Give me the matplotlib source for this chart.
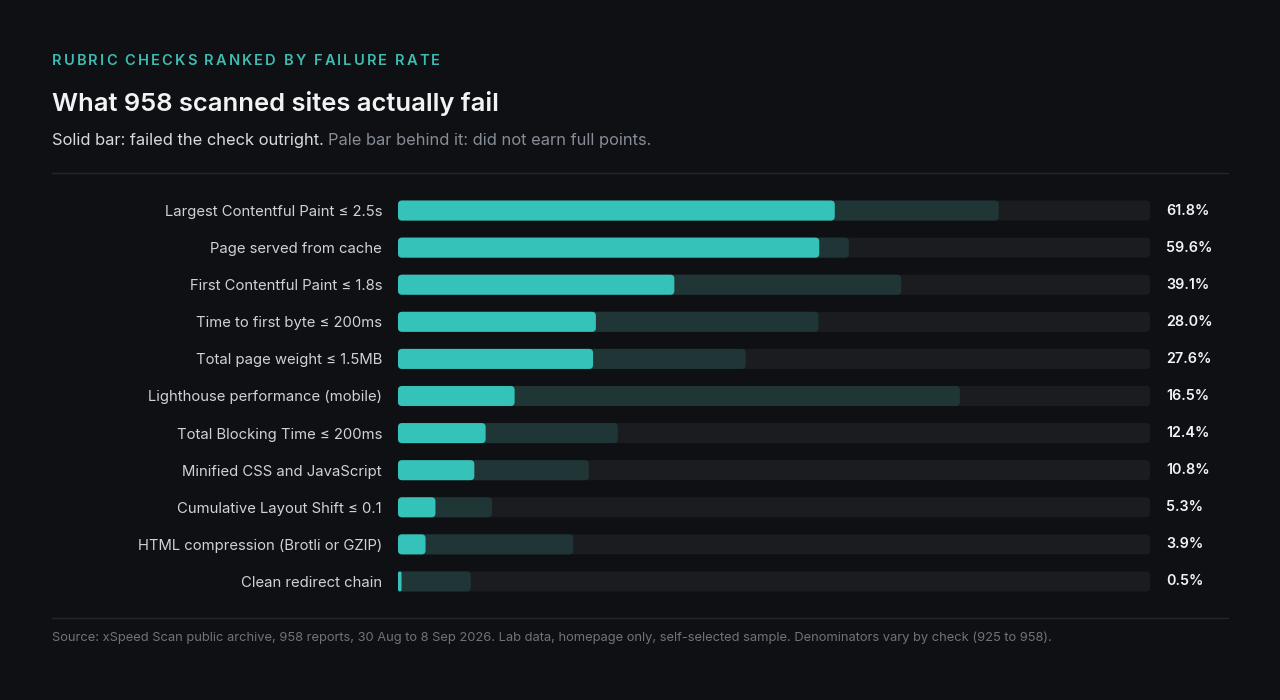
import matplotlib
matplotlib.use("Agg")
import matplotlib.pyplot as plt
from matplotlib.patches import FancyBboxPatch
from matplotlib.lines import Line2D

plt.rcParams['font.family'] = ['Inter', 'DejaVu Sans']

# rubric checks, worst first
checks = [
    "Largest Contentful Paint ≤ 2.5s",
    "Page served from cache",
    "First Contentful Paint ≤ 1.8s",
    "Time to first byte ≤ 200ms",
    "Total page weight ≤ 1.5MB",
    "Lighthouse performance (mobile)",
    "Total Blocking Time ≤ 200ms",
    "Minified CSS and JavaScript",
    "Cumulative Layout Shift ≤ 0.1",
    "HTML compression (Brotli or GZIP)",
    "Clean redirect chain",
]
# % failed outright (solid bar)
failed = [61.8, 59.6, 39.1, 28.0, 27.6, 16.5, 12.4, 10.8, 5.3, 3.9, 0.5]
# % not earning full points (pale bar)
not_full = [85.0, 63.8, 71.2, 59.5, 49.2, 79.5, 31.1, 27.0, 13.3, 24.8, 10.3]

W, H = 1280, 700
BG = "#0e1014"
TEAL = "#35c2b8"
PALE = "#1f3536"
TRACK = "#1a1c20"

fig = plt.figure(figsize=(W / 100, H / 100), dpi=100, facecolor=BG)


def px(x):
    return x / W


def py(y):
    return 1 - y / H


# bar area: 398..1150 px wide, rows 37px apart
ax = fig.add_axes([px(398), py(600), px(1150) - px(398), (600 - 192) / H])
ax.set_facecolor(BG)
XMAX = 106.4
ax.set_xlim(0, XMAX)
ax.set_ylim(len(checks) - 0.5, -0.5)

ppx = 752 / XMAX  # pixels per x unit
ppy = 37.0  # pixels per row
aspect = ppx / ppy
bh = 20 / ppy
rad = 4 / ppx


def rbar(x0, w, y, color, z):
    r = min(rad, w / 2)
    p = FancyBboxPatch((x0, y - bh / 2), w, bh,
                       boxstyle=f"round,pad=0,rounding_size={r}",
                       mutation_aspect=aspect, fc=color, ec="none", zorder=z)
    ax.add_patch(p)


for i, (f, nf) in enumerate(zip(failed, not_full)):
    rbar(0, XMAX, i, TRACK, 1)
    rbar(0, nf, i, PALE, 2)
    rbar(0, f, i, TEAL, 3)
    ax.annotate(f"{f:.1f}%", xy=(1, i), xycoords=('axes fraction', 'data'),
                xytext=(11.5, 0), textcoords='offset points', va='center', ha='left',
                color="#f2f3f5", fontsize=10.3, fontweight='semibold')

ax.set_yticks(range(len(checks)), labels=checks)
ax.tick_params(axis='y', length=0, pad=11.5, labelsize=10.7, labelcolor="#cfd2d7")
ax.set_xticks([])
for s in ax.spines.values():
    s.set_visible(False)

renderer = fig.canvas.get_renderer()


def width_px(s, **kw):
    t = fig.text(0, 0, s, **kw)
    w = t.get_window_extent(renderer).width
    t.remove()
    return w


# letter-spaced overline
over = "RUBRIC CHECKS RANKED BY FAILURE RATE"
okw = dict(fontsize=10.5, fontweight='semibold', color="#3dbdb1")
base = width_px("x", **okw)
spacing = 2.1
for i, ch in enumerate(over):
    if ch == " ":
        continue
    off = width_px(over[:i] + "x", **okw) - base if i else 0
    fig.text(px(52 + off + i * spacing), py(61), ch, va='center', ha='left', **okw)

fig.text(px(52), py(103), "What 958 scanned sites actually fail", va='center', ha='left',
         fontsize=18.4, fontweight='semibold', color="#f2f3f5")

t1 = fig.text(px(52), py(140), "Solid bar: failed the check outright.", va='center', ha='left',
              fontsize=11.85, color="#d8dadf")
x1 = t1.get_window_extent(renderer).x1
fig.text((x1 + 4.5) / W, py(140), "Pale bar behind it: did not earn full points.",
         va='center', ha='left', fontsize=11.85, color="#878d96")

for yy in (173, 618):
    fig.add_artist(Line2D([px(52), px(1228)], [py(yy), py(yy)], transform=fig.transFigure,
                          color="#23262b", lw=1))

fig.text(px(52), py(638),
         "Source: xSpeed Scan public archive, 958 reports, 30 Aug to 8 Sep 2026. Lab data, "
         "homepage only, self-selected sample. Denominators vary by check (925 to 958).",
         va='center', ha='left', fontsize=9.3, color="#6e737b")

fig.savefig("out.png", dpi=100, facecolor=BG)
